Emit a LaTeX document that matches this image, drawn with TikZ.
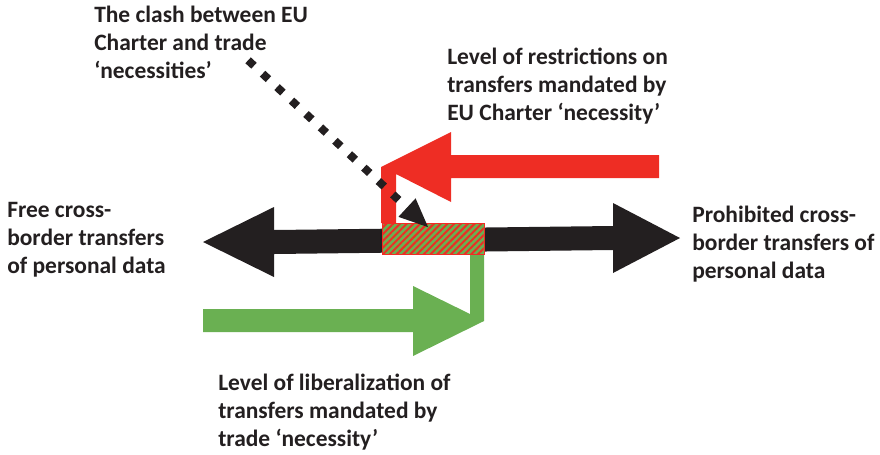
\documentclass[tikz,border=0pt]{standalone}
\usepackage{fontspec}
\setmainfont{Carlito}
\usetikzlibrary{arrows.meta,patterns.meta}

\begin{document}
\begin{tikzpicture}[x=0.75pt,y=0.75pt,yscale=-1,xscale=1,
    redfill/.style={fill={rgb, 255:red, 238; green, 45; blue, 36 }},
    greenfill/.style={fill={rgb, 255:red, 106; green, 176; blue, 82 }},
    blackfill/.style={fill={rgb, 255:red, 35; green, 31; blue, 32 }},
    lbl/.style={anchor=base west, inner sep=0pt, align=left, text={rgb, 255:red, 35; green, 31; blue, 32 },
      font=\bfseries\fontsize{17.6}{21.2}\selectfont}]
        \useasboundingbox (0,0) rectangle (880,454); %set diagram left start at 0, and has size 880 x 454

        %Shape: Double Arrow [id:black]
        \path  [blackfill] (203,242) -- (274,207) -- (274,230) -- (613,226) -- (613,203) -- (680,238) -- (613,273) -- (613,250) -- (274,254) -- (274,277) -- cycle ;
        %Shape: Bent Arrow [id:red]
        \path  [redfill] (659,155) -- (451,155) -- (451,132) -- (381,167) -- (381,223) -- (396,223) -- (396,174) -- (451,202) -- (451,178) -- (659,178) -- cycle ;
        %Shape: Bent Arrow [id:green]
        \path  [greenfill] (203,309) -- (413,309) -- (413,286) -- (470,314) -- (470,254) -- (484,254) -- (484,321) -- (413,356) -- (413,332) -- (203,332) -- cycle ;
        %Shape: Rectangle [id:clash]
        \draw  [greenfill, draw={rgb, 255:red, 238; green, 45; blue, 36 }, line width=0.75] (382,223) rectangle (484,254) ;
        \path  [pattern={Lines[angle=45,distance=3.6pt,line width=1.5pt]}, pattern color={rgb, 255:red, 238; green, 45; blue, 36 }] (382.5,223.5) rectangle (483.5,253.5) ;
        \draw  [draw={rgb, 255:red, 238; green, 45; blue, 36 }, line width=0.75] (382,223) rectangle (484,254) ;
        \coordinate (clashbox) at (429,228) ;

        %Dotted Line [id:clashline]
        \coordinate (clashstart) at (248.1,60.3) ;
        \draw [draw={rgb, 255:red, 35; green, 31; blue, 32 }, line width=6pt, dash pattern=on 6pt off 8.8pt,
          -{Triangle[length=22.5pt, width=17pt, fill={rgb, 255:red, 35; green, 31; blue, 32 }]}] (clashstart) -- (clashbox) ;

        % Text Node
        \draw (94,78.6) node (clash) [lbl] {The clash between EU\\Charter and trade\\‘necessities’};
        % Text Node
        \draw (447,120.6) node (restrict) [lbl] {Level of restrictions on\\transfers mandated by\\EU Charter ‘necessity’};
        % Text Node
        \draw (7,273.6) node (free) [lbl] {Free cross-\\border transfers\\of personal data};
        % Text Node
        \draw (692,278.6) node (prohibit) [lbl] {Prohibited cross-\\border transfers of\\personal data};
        % Text Node
        \draw (218,446.6) node (liberal) [lbl] {Level of liberalization of\\transfers mandated by\\trade ‘necessity’};

    \end{tikzpicture}
\end{document}
